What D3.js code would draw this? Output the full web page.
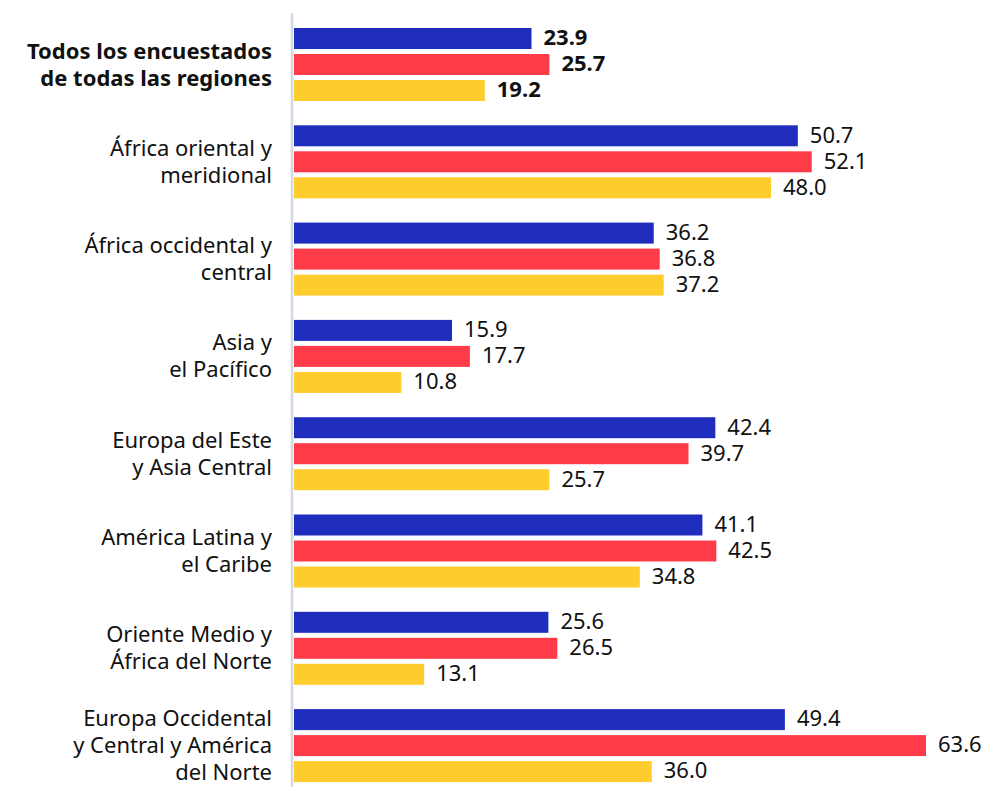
<!DOCTYPE html>
<html><head><meta charset="utf-8">
<script src="https://cdn.jsdelivr.net/npm/d3@7"></script>
<style>body{margin:0;background:#fff}svg text{font-family:"Noto Sans",sans-serif}</style>
</head><body><svg id="c" width="990" height="787"></svg>
<script>
const categories = [
  ["Todos los encuestados","de todas las regiones"],
  ["África oriental y","meridional"],
  ["África occidental y","central"],
  ["Asia y","el Pacífico"],
  ["Europa del Este","y Asia Central"],
  ["América Latina y","el Caribe"],
  ["Oriente Medio y","África del Norte"],
  ["Europa Occidental","y Central y América","del Norte"]
];
const seriesA = [23.9, 50.7, 36.2, 15.9, 42.4, 41.1, 25.6, 49.4];
const seriesB = [25.7, 52.1, 36.8, 17.7, 39.7, 42.5, 26.5, 63.6];
const seriesC = [19.2, 48.0, 37.2, 10.8, 25.7, 34.8, 13.1, 36.0];
const colors = ["#1f2dbd", "#ff3b4a", "#ffcc2e"];

const svg = d3.select("#c");
const x = d3.scaleLinear().domain([0, 63.6]).range([294, 926]);
const step = 97.3, top0 = 28, bh = 21, bstep = 26;
const y = d3.scaleLinear().domain([0, 1]).range([top0, top0 + step]);
const series = [seriesA, seriesB, seriesC];

svg.append("line").attr("x1", 292).attr("x2", 292).attr("y1", 13).attr("y2", 787)
  .attr("stroke", "#d0d8e4").attr("stroke-width", 2.5);

categories.forEach((lab, i) => {
  const gy = y(i);
  const g = svg.append("g");
  series.forEach((s, k) => {
    const v = s[i];
    const by = gy + k * bstep;
    g.append("rect").attr("x", x(0)).attr("y", by).attr("width", x(v) - x(0)).attr("height", bh).attr("fill", colors[k]);
    g.append("text").attr("x", x(v) + 12).attr("y", by + bh / 2 + 6.8)
      .attr("font-size", 22).attr("fill", "#111").attr("font-weight", i === 0 ? 700 : 400)
      .text(v.toFixed(1));
  });
  const mid = gy + (2 * bstep + bh) / 2;
  const lh = 27;
  const n = lab.length;
  lab.forEach((line, j) => {
    svg.append("text").attr("x", 272).attr("text-anchor", "end")
      .attr("y", mid + (j - (n - 1) / 2) * lh + 7.5)
      .attr("font-size", 22).attr("fill", "#111").attr("font-weight", i === 0 ? 700 : 400)
      .text(line);
  });
});
</script></body></html>
